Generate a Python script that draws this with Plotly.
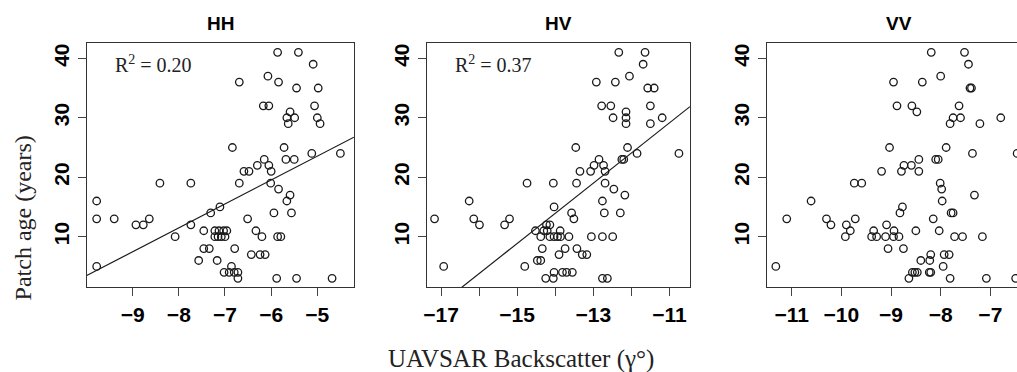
import numpy as np
import plotly.graph_objects as go

# Patch age (years) against UAVSAR backscatter for each polarization
hh_x = [-9.78, -9.78, -9.78, -9.40, -8.93, -8.77, -8.64, -8.41, -8.08, -7.74,
        -7.74, -7.57, -7.46, -7.46, -7.34, -7.31, -7.11, -7.22, -7.13, -7.03,
        -6.96, -7.22, -7.15, -7.08, -7.00, -7.17, -7.02, -6.91, -6.80, -6.72,
        -6.86, -6.72, -6.84, -6.69, -6.69, -6.79, -6.59, -6.48, -6.51, -6.43,
        -6.24, -6.13, -6.33, -6.20, -6.30, -6.05, -6.15, -6.07, -6.17, -6.05,
        -6.00, -6.01, -5.94, -5.88, -5.86, -5.84, -5.84, -5.86, -5.79, -5.72,
        -5.68, -5.50, -5.66, -5.49, -5.63, -5.59, -5.59, -5.66, -5.56, -5.45,
        -5.45, -5.41, -5.12, -5.09, -5.06, -5.00, -4.98, -4.94, -4.68, -4.50]
hh_y = [16, 13, 5, 13, 12, 12, 13, 19, 10, 19,
        12, 6, 11, 8, 8, 14, 15, 11, 11, 11,
        11, 10, 10, 10, 10, 6, 4, 4, 4, 4,
        5, 3, 25, 36, 19, 8, 21, 21, 13, 7,
        7, 7, 11, 10, 22, 22, 23, 37, 32, 32,
        21, 19, 14, 3, 41, 36, 18, 10, 10, 25,
        23, 23, 30, 30, 29, 31, 17, 16, 14, 3,
        35, 41, 24, 39, 32, 30, 35, 29, 3, 24]

hv_x = [-17.17, -16.93, -16.26, -16.14, -15.99, -15.33, -15.20, -14.80, -14.74, -14.52,
        -14.47, -14.38, -14.38, -14.34, -14.30, -14.25, -14.23, -14.21, -14.14, -14.14,
        -14.05, -14.03, -14.03, -14.05, -14.03, -13.90, -13.87, -13.94, -13.86, -13.81,
        -13.70, -13.55, -13.74, -13.64, -13.57, -13.51, -13.46, -13.44, -13.43, -13.35,
        -13.29, -13.17, -13.07, -13.05, -12.98, -12.92, -12.85, -12.78, -12.76, -12.76,
        -12.73, -12.71, -12.69, -12.69, -12.76, -12.63, -12.54, -12.49, -12.48, -12.46,
        -12.42, -12.33, -12.29, -12.25, -12.20, -12.17, -12.14, -12.14, -12.14, -12.10,
        -12.05, -11.85, -11.69, -11.64, -11.57, -11.40, -11.50, -11.50, -11.19, -10.75]
hv_y = [13, 5, 16, 13, 12, 12, 13, 5, 19, 11,
        6, 6, 10, 8, 11, 3, 12, 11, 12, 10,
        19, 15, 4, 3, 10, 7, 11, 10, 10, 4,
        4, 4, 8, 10, 14, 13, 25, 19, 8, 21,
        7, 7, 21, 10, 22, 36, 23, 32, 16, 10,
        22, 14, 21, 19, 3, 3, 32, 10, 30, 18,
        36, 41, 14, 23, 23, 17, 31, 30, 29, 25,
        37, 24, 39, 41, 35, 35, 32, 29, 30, 24]

vv_x = [-11.32, -11.10, -10.61, -10.30, -10.21, -9.92, -9.90, -9.82, -9.74, -9.72,
        -9.59, -9.35, -9.39, -9.29, -9.19, -9.11, -9.09, -9.06, -9.03, -8.95,
        -8.94, -8.95, -8.84, -8.88, -8.82, -8.79, -8.77, -8.75, -8.74, -8.64,
        -8.59, -8.58, -8.57, -8.52, -8.47, -8.50, -8.48, -8.44, -8.44, -8.40,
        -8.37, -8.23, -8.20, -8.22, -8.20, -8.19, -8.15, -8.10, -8.05, -8.03,
        -8.01, -8.00, -7.98, -7.97, -7.95, -7.93, -7.83, -7.89, -7.81, -7.81,
        -7.79, -7.75, -7.75, -7.72, -7.63, -7.60, -7.56, -7.52, -7.44, -7.41,
        -7.38, -7.36, -7.32, -7.21, -7.16, -7.08, -6.79, -6.49, -6.46]
vv_y = [5, 13, 16, 13, 12, 10, 12, 11, 19, 13,
        19, 11, 10, 10, 21, 10, 12, 8, 25, 36,
        11, 10, 10, 32, 14, 21, 15, 8, 22, 3,
        22, 32, 4, 4, 4, 11, 31, 23, 21, 6,
        36, 4, 4, 6, 7, 41, 13, 23, 23, 11,
        19, 37, 18, 16, 5, 7, 7, 25, 3, 29,
        14, 14, 30, 10, 32, 30, 10, 41, 39, 35,
        35, 24, 17, 29, 10, 3, 30, 3, 24]

panel_titles = ["HH", "HV", "VV"]
r2_labels = ["R<sup>2</sup> = 0.20", "R<sup>2</sup> = 0.37", None]
show_fit = [True, True, False]

# labelled ticks per panel; every integer gets a tick mark
x_ticks = [[-9, -8, -7, -6, -5],
           [-17, -15, -13, -11],
           [-11, -10, -9, -8, -7]]
y_ticks = [10, 20, 30, 40]

y_title = "Patch age (years)"
x_title = "UAVSAR Backscatter (\u03b3\u00b0)"

# ---- layout geometry (pixels of a 1017 x 372 canvas) ----
W, H = 1017, 372
panel_px = [(84, 352), (425, 689), (766, 1017)]
top_px, bottom_px = 43.3, 287.3
x_ranges = [[-9.995, -4.206], [-17.375, -10.46], [-11.503, -6.463]]
y_range = [1.49, 42.52]


def fx(p):
    return p / W


def fy(p):
    return 1 - p / H


SANS = "Liberation Sans, Arial, sans-serif"
SERIF = "Liberation Serif, Times New Roman, serif"
INK = "#1a1a1a"

fig = go.Figure()
series = [(hh_x, hh_y), (hv_x, hv_y), (vv_x, vv_y)]

for i, (xs, ys) in enumerate(series):
    sfx = "" if i == 0 else str(i + 1)
    xa, ya = "x" + sfx, "y" + sfx
    fig.add_trace(go.Scatter(
        x=xs, y=ys, mode="markers", xaxis=xa, yaxis=ya,
        marker=dict(symbol="circle-open", size=7.5, color=INK,
                    line=dict(width=1.3, color=INK)),
        showlegend=False, hoverinfo="x+y"))
    if show_fit[i]:
        slope, intercept = np.polyfit(np.array(xs), np.array(ys), 1)
        lx = np.array(x_ranges[i])
        fig.add_trace(go.Scatter(
            x=lx, y=slope * lx + intercept, mode="lines",
            xaxis=xa, yaxis=ya, line=dict(color=INK, width=1.2),
            showlegend=False, hoverinfo="skip"))

    left, right = panel_px[i]
    axis_common = dict(
        showline=True, linecolor="#333333", linewidth=1.3,
        ticks="outside", ticklen=8, tickwidth=1.2, tickcolor="#444444",
        showgrid=False, zeroline=False,
        tickfont=dict(family=SANS, size=21, color="black", weight="bold"),
    )
    fig.layout["xaxis" + sfx] = dict(
        axis_common, domain=[fx(left), fx(right)], range=x_ranges[i],
        anchor=ya, mirror=True, tickmode="array", tickvals=x_ticks[i],
        tickangle=0,
        minor=dict(ticks="outside", dtick=1, tick0=0, ticklen=8,
                   tickwidth=1.2, tickcolor="#444444", showgrid=False))
    fig.layout["yaxis" + sfx] = dict(
        axis_common, domain=[fy(bottom_px), fy(top_px)], range=y_range,
        anchor=xa, mirror=(i < 2), tickmode="array", tickvals=y_ticks,
        tickangle=-90)

    fig.add_annotation(
        text="<b>%s</b>" % panel_titles[i], xref="paper", yref="paper",
        x=fx((left + (right if i < 2 else 1032)) / 2), y=fy(23.5),
        xanchor="center", yanchor="middle", showarrow=False,
        font=dict(family=SANS, size=19, color="black"))
    if r2_labels[i]:
        fig.add_annotation(
            text=r2_labels[i], xref="paper", yref="paper",
            x=fx(left + 26), y=fy(64), xanchor="left", yanchor="middle",
            showarrow=False, font=dict(family=SERIF, size=20, color="#222222"))

fig.add_annotation(
    text=y_title, xref="paper", yref="paper", x=fx(20), y=fy(217.5),
    xanchor="center", yanchor="middle", textangle=-90, showarrow=False,
    font=dict(family=SERIF, size=24, color="#222222"))
fig.add_annotation(
    text=x_title, xref="paper", yref="paper", x=fx(520), y=fy(358.5),
    xanchor="center", yanchor="middle", showarrow=False,
    font=dict(family=SERIF, size=25, color="#222222"))

fig.update_layout(
    width=W, height=H, margin=dict(l=0, r=0, t=0, b=0),
    paper_bgcolor="white", plot_bgcolor="white")

fig.write_html("out.html")
